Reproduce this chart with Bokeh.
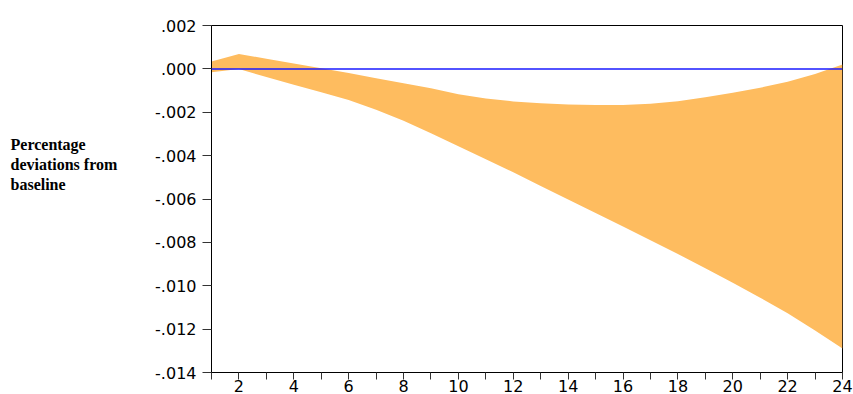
from bokeh.plotting import figure
from bokeh.models import FixedTicker, Span, Range1d
from bokeh.layouts import row
from bokeh.core.properties import value
from bokeh.embed import file_html
from bokeh.resources import INLINE

# Horizon (periods)
periods = [1, 2, 3, 4, 5, 6, 7, 8, 9, 10, 11, 12,
           13, 14, 15, 16, 17, 18, 19, 20, 21, 22, 23, 24]

# Upper and lower bounds of the response band
upper = [0.00034, 0.00069, 0.00047, 0.00025, 0.00003, -0.00019, -0.00043, -0.00066,
         -0.00089, -0.00117, -0.00137, -0.00150, -0.00159, -0.00164, -0.00167, -0.00167,
         -0.00161, -0.00149, -0.00131, -0.00110, -0.00087, -0.00059, -0.00024, 0.00020]
lower = [-0.00016, -0.00001, -0.00037, -0.00073, -0.00108, -0.00144, -0.00188, -0.00239,
         -0.00297, -0.00357, -0.00417, -0.00477, -0.00540, -0.00602, -0.00665, -0.00727,
         -0.00790, -0.00854, -0.00919, -0.00986, -0.01055, -0.01127, -0.01206, -0.01289]

# Axis ticks
y_ticks = [0.002, 0.0, -0.002, -0.004, -0.006, -0.008, -0.010, -0.012, -0.014]
y_tick_labels = [".002", ".000", "-.002", "-.004", "-.006", "-.008", "-.010", "-.012", "-.014"]
x_major_ticks = [2, 4, 6, 8, 10, 12, 14, 16, 18, 20, 22, 24]
x_minor_ticks = [1, 3, 5, 7, 9, 11, 13, 15, 17, 19, 21, 23]

y_title = "Percentage\ndeviations from\nbaseline"

# ---- side panel holding the horizontal y-axis title ----
LW, H = 140, 394
side = figure(width=LW, height=H, output_backend="svg", toolbar_location=None,
              x_range=Range1d(0, LW), y_range=Range1d(0, H),
              min_border=0, outline_line_color=None)
side.axis.visible = False
side.grid.visible = False
side.text(x=[10], y=[H - 125], text=[y_title], text_font=value("Liberation Serif"),
          text_font_style="bold", text_font_size="16px", text_color="black",
          text_baseline="top", text_align="left", text_line_height=1.18)

# ---- main chart ----
p = figure(width=853 - LW, height=H, output_backend="svg", toolbar_location=None,
           x_range=Range1d(1, 24), y_range=Range1d(-0.014, 0.002))
p.min_border_left = 211 - LW
p.min_border_right = 11
p.min_border_top = 25
p.min_border_bottom = 0
p.background_fill_color = "white"
p.border_fill_color = "white"
p.outline_line_color = "black"
p.outline_line_width = 1
p.xgrid.visible = False
p.ygrid.visible = False

p.varea(x=periods, y1=lower, y2=upper, fill_color="#FEBC5F", fill_alpha=1.0)
p.add_layout(Span(location=0.0, dimension="width", line_color="#1A1AFF", line_width=1.5))

# Y axis
ya = p.yaxis[0]
ya.ticker = FixedTicker(ticks=y_ticks, minor_ticks=[])
ya.major_label_overrides = dict(zip(y_ticks, y_tick_labels))
ya.major_tick_out = 9
ya.major_tick_in = 0
ya.minor_tick_out = 0
ya.minor_tick_in = 0
ya.major_tick_line_color = "#333333"
ya.axis_line_color = "black"
ya.major_label_standoff = 6
ya.major_label_text_font = "DejaVu Sans"
ya.major_label_text_font_size = "16px"
ya.major_label_text_color = "black"

# X axis
xa = p.xaxis[0]
xa.ticker = FixedTicker(ticks=x_major_ticks, minor_ticks=x_minor_ticks)
xa.major_tick_out = 7
xa.major_tick_in = 0
xa.minor_tick_out = 7
xa.minor_tick_in = 0
xa.major_tick_line_color = "#333333"
xa.minor_tick_line_color = "#333333"
xa.axis_line_color = "black"
xa.major_label_standoff = 0
xa.major_label_text_font = "DejaVu Sans"
xa.major_label_text_font_size = "16px"
xa.major_label_text_color = "black"

layout = row(side, p, spacing=0)
open("out.html", "w").write(file_html(layout, INLINE))
